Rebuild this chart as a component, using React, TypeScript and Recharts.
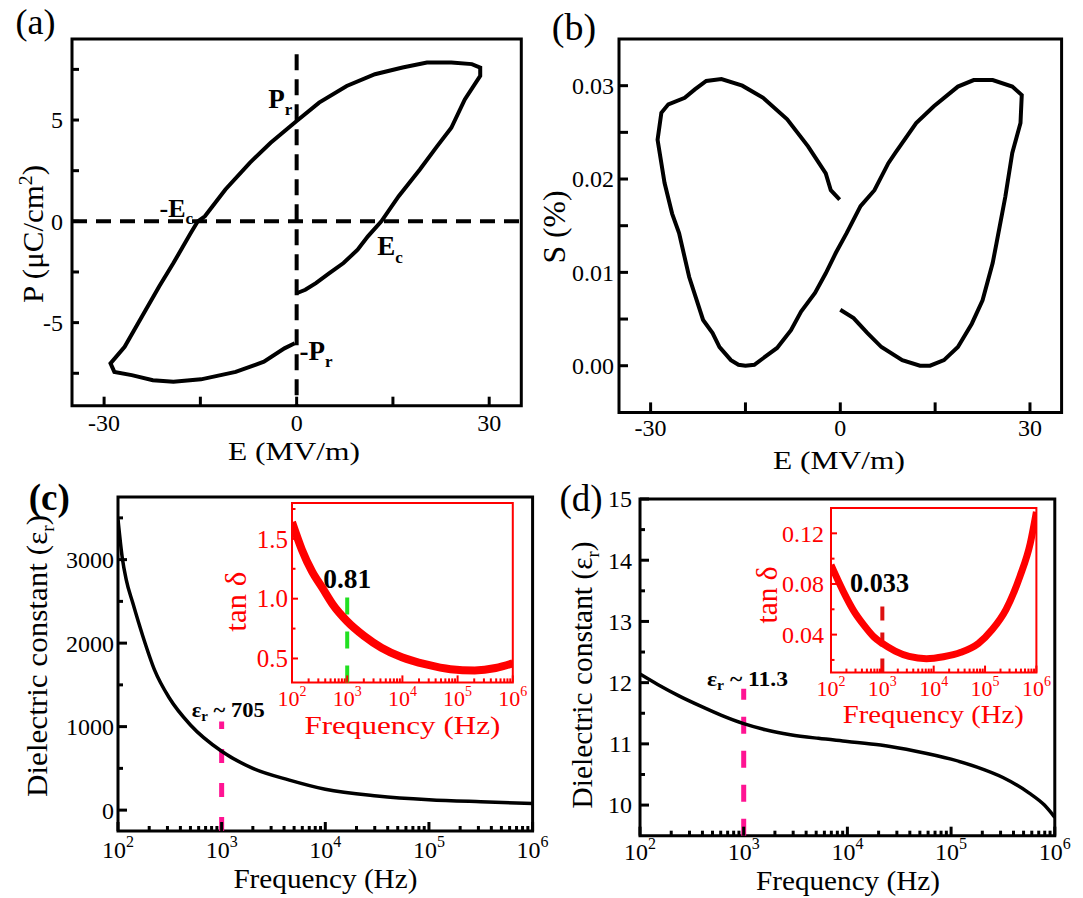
import type { ReactNode } from "react"
import { LineChart, Line, XAxis, YAxis, ReferenceLine, ReferenceArea } from "recharts"

const FONT = "'Liberation Serif', 'Times New Roman', Times, serif"
const BLACK = "#000"
const RED = "#ff0000"
const PINK = "#ff1493"
const GREEN = "#22e022"

// (a) P–E hysteresis loop, one path starting at E = 0 on the lower branch
const peField = [0, 1.35, 3, 5.1, 7.3, 9.5, 11.1, 13.2, 15.9, 19.2, 21.9, 24.1, 26.2, 28.6, 28.6, 27.3, 24.1, 20.3, 16.5, 12.2, 7.8, 3.5, 0, -4.05, -7.3, -11.1, -14.3, -15.4, -16.5, -19.2, -21.4, -24.1, -26.8, -29, -28.4, -25.7, -22.4, -19.2, -14.9, -9.5, -5.1, -1.9, -0.3]
const pePolarization = [-3.55, -3.38, -3.05, -2.56, -2.06, -1.4, -0.74, 0, 1.24, 2.56, 3.71, 4.62, 6.02, 7.18, 7.59, 7.76, 7.84, 7.84, 7.59, 7.26, 6.68, 5.86, 4.95, 3.88, 2.89, 1.57, 0.25, 0, -0.58, -2.06, -3.2, -4.7, -6.19, -7.01, -7.43, -7.59, -7.84, -7.92, -7.8, -7.43, -6.93, -6.27, -6.02]

// (b) S–E butterfly loop
const seField = [0, 2.1, 4.3, 6.5, 9.8, 12.6, 14.2, 16.4, 18.6, 20.8, 22.5, 24.1, 24.7, 26.1, 27.2, 28.5, 28.7, 27.2, 24.1, 21.1, 18.6, 14.8, 12.0, 8.7, 7.6, 5.4, 3.2, 1.0, -0.7, -2.3, -4.0, -6.2, -7.8, -10.0, -12.2, -13.6, -15.0, -16.1, -17.3, -19.1, -20.2, -21.7, -23.9, -25.5, -26.6, -27.8, -28.9, -28.3, -27.2, -24.6, -23.0, -21.2, -18.8, -15.5, -12.2, -8.4, -5.1, -2.3, -1.5, -0.1]
const seStrain = [0.006, 0.0051, 0.0035, 0.002, 0.0006, 0, 0, 0.0006, 0.002, 0.0045, 0.007, 0.011, 0.0131, 0.0181, 0.0228, 0.026, 0.029, 0.0299, 0.0306, 0.0306, 0.0299, 0.0278, 0.026, 0.0228, 0.0217, 0.0188, 0.0171, 0.0142, 0.0121, 0.0099, 0.0078, 0.0058, 0.0038, 0.0019, 0.0008, 0.0001, 0, 0.0001, 0.0006, 0.002, 0.0035, 0.0049, 0.0095, 0.0142, 0.0163, 0.0196, 0.0242, 0.0271, 0.028, 0.0287, 0.0296, 0.0305, 0.0307, 0.03, 0.0287, 0.0264, 0.0235, 0.0206, 0.0188, 0.0178]

// (c) dielectric constant and loss tangent vs frequency
const dielFreqC = [100, 110, 120, 139, 174, 225, 314, 500, 1000, 2000, 4510, 10000, 31623, 100000, 316228, 1000000]
const dielC = [3480, 3020, 2760, 2480, 2080, 1680, 1340, 1020, 705, 500, 360, 250, 170, 125, 100, 80]
const lossFreqC = [100, 151, 229, 355, 550, 1000, 1995, 4169, 9772, 26915, 74131, 204174, 489779, 1000000]
const lossC = [1.64, 1.41, 1.23, 1.09, 0.95, 0.81, 0.69, 0.59, 0.51, 0.45, 0.41, 0.4, 0.42, 0.46]

// (d) dielectric constant and loss tangent vs frequency
const dielFreqD = [100, 148, 240, 380, 603, 1000, 1622, 2818, 5248, 10000, 20893, 45709, 100000, 177828, 316228, 562341, 794328, 1000000]
const dielD = [12.14, 11.97, 11.78, 11.62, 11.47, 11.33, 11.23, 11.15, 11.09, 11.04, 10.98, 10.88, 10.75, 10.62, 10.45, 10.2, 10.0, 9.8]
const lossFreqD = [100, 174, 275, 437, 692, 1000, 1778, 3311, 7244, 15488, 33884, 74131, 138038, 257040, 478630, 758578, 1000000]
const lossD = [0.095, 0.074, 0.059, 0.0475, 0.038, 0.033, 0.027, 0.0228, 0.021, 0.0225, 0.026, 0.033, 0.044, 0.06, 0.086, 0.112, 0.137]

// ticks
const eTicks = [-30, -15, 0, 15, 30]
const eLabels = [-30, 0, 30]
const pTicks = [-7.5, -5, -2.5, 0, 2.5, 5, 7.5]
const pLabels = [-5, 0, 5]
const sTicks = [0, 0.005, 0.01, 0.015, 0.02, 0.025, 0.03]
const sLabels = [0, 0.01, 0.02, 0.03]
const epsTicksC = [0, 500, 1000, 1500, 2000, 2500, 3000, 3500]
const epsLabelsC = [0, 1000, 2000, 3000]
const epsTicksD = [10, 10.5, 11, 11.5, 12, 12.5, 13, 13.5, 14, 14.5, 15]
const epsLabelsD = [10, 11, 12, 13, 14, 15]
const tanTicksC = [0.5, 0.75, 1, 1.25, 1.5, 1.75]
const tanLabelsC = [0.5, 1, 1.5]
const tanTicksD = [0.02, 0.04, 0.06, 0.08, 0.1, 0.12]
const tanLabelsD = [0.04, 0.08, 0.12]
const decades = [2, 3, 4, 5, 6]
const freqTicks = decades.flatMap((d) =>
  d === 6 ? [1e6] : [1, 2, 3, 4, 5, 6, 7, 8, 9].map((k) => k * 10 ** d)
)

type Pt = { x: number; y: number }
const zip = (xs: number[], ys: number[]): Pt[] => xs.map((x, i) => ({ x, y: ys[i] }))
const has = (list: number[], v: number) => list.some((l) => Math.abs(l - v) < 1e-9)
const isDecade = (v: number) => Math.abs(Math.log10(v) - Math.round(Math.log10(v))) < 1e-6

type TickStyle = {
  color: string
  width: number
  majorLen: number
  minorLen: number
  fontSize: number
  gap: number
  isMajor: (v: number) => boolean
  format: (v: number) => ReactNode | null
}

// ticks point inward; label sits below (bottom) or left of the axis line
const bottomTick = (s: TickStyle) => (props: any) => {
  const { x, y, payload } = props
  const v = payload.value as number
  const len = s.isMajor(v) ? s.majorLen : s.minorLen
  const label = s.format(v)
  return (
    <g>
      <line x1={x} x2={x} y1={y} y2={y - len} stroke={s.color} strokeWidth={s.width} />
      {label !== null && (
        <text x={x} y={y + s.gap} textAnchor="middle" fill={s.color} fontSize={s.fontSize} fontFamily={FONT}>
          {label}
        </text>
      )}
    </g>
  )
}

const leftTick = (s: TickStyle) => (props: any) => {
  const { x, y, payload } = props
  const v = payload.value as number
  const len = s.isMajor(v) ? s.majorLen : s.minorLen
  const label = s.format(v)
  return (
    <g>
      <line x1={x} x2={x + len} y1={y} y2={y} stroke={s.color} strokeWidth={s.width} />
      {label !== null && (
        <text x={x - s.gap} y={y} dy="0.35em" textAnchor="end" fill={s.color} fontSize={s.fontSize} fontFamily={FONT}>
          {label}
        </text>
      )}
    </g>
  )
}

const powerLabel = (sup: number, dy: number) => (v: number) =>
  isDecade(v) ? (
    <>
      10
      <tspan dy={-dy} fontSize={sup}>
        {Math.round(Math.log10(v))}
      </tspan>
    </>
  ) : null

type Box = { l: number; t: number; r: number; b: number }

// plot area lands exactly on `box` (page pixels): 20 margin + 40 y-axis on the left,
// 30 x-axis + 10 margin below, room above and to the right for edge labels
function Plot({ box, data, children }: { box: Box; data: Pt[]; children: ReactNode }) {
  return (
    <div style={{ position: "absolute", left: box.l - 60, top: box.t - 20 }}>
      <LineChart
        width={box.r - box.l + 90}
        height={box.b - box.t + 60}
        data={data}
        margin={{ top: 20, right: 30, bottom: 10, left: 20 }}
      >
        {children}
      </LineChart>
    </div>
  )
}

function Txt(props: {
  x: number
  y: number
  size: number
  children: ReactNode
  anchor?: "start" | "middle" | "end"
  rotate?: number
  bold?: boolean
  color?: string
  len?: number
}) {
  const { x, y, size, children, anchor = "middle", rotate, bold, color = BLACK, len } = props
  return (
    <text
      x={x}
      y={y}
      fontSize={size}
      fontFamily={FONT}
      fontWeight={bold ? "bold" : "normal"}
      fill={color}
      textAnchor={anchor}
      transform={rotate ? `rotate(${rotate} ${x} ${y})` : undefined}
      textLength={len}
      lengthAdjust={len ? "spacingAndGlyphs" : undefined}
    >
      {children}
    </text>
  )
}

const boxA: Box = { l: 71.7, t: 39.3, r: 521, b: 406 }
const boxB: Box = { l: 619.4, t: 39.3, r: 1062, b: 412.7 }
const boxC: Box = { l: 118.4, t: 496.5, r: 533, b: 830.5 }
const boxD: Box = { l: 640.2, t: 499.3, r: 1055, b: 836 }
const boxCi: Box = { l: 291.5, t: 503.3, r: 512.3, b: 682.7 }
const boxDi: Box = { l: 830.6, t: 507.7, r: 1036, b: 672.3 }

export default function App() {
  const peData = zip(peField, pePolarization)
  const seData = zip(seField, seStrain)
  const dielDataC = zip(dielFreqC, dielC)
  const lossDataC = zip(lossFreqC, lossC)
  const dielDataD = zip(dielFreqD, dielD)
  const lossDataD = zip(lossFreqD, lossD)

  const fieldAxisA = bottomTick({
    color: BLACK, width: 3, majorLen: 9, minorLen: 9, fontSize: 24, gap: 25,
    isMajor: () => true, format: (v) => (has(eLabels, v) ? String(v) : null),
  })
  const fieldAxisB = bottomTick({
    color: BLACK, width: 3, majorLen: 10, minorLen: 10, fontSize: 24, gap: 24,
    isMajor: () => true, format: (v) => (has(eLabels, v) ? String(v) : null),
  })
  const freqAxisMain = (gap: number) =>
    bottomTick({
      color: BLACK, width: 3, majorLen: 9, minorLen: 5, fontSize: 24, gap,
      isMajor: isDecade, format: powerLabel(16, 11),
    })
  const freqAxisInset = (gap: number) =>
    bottomTick({
      color: RED, width: 2, majorLen: 7, minorLen: 4, fontSize: 22, gap,
      isMajor: isDecade, format: powerLabel(14, 10),
    })

  return (
    <div style={{ position: "absolute", left: 0, top: 0, width: 1083, height: 898, background: "#fff" }}>
      {/* (a) P–E loop */}
      <Plot box={boxA} data={peData}>
        <XAxis dataKey="x" type="number" domain={[-35, 35]} allowDataOverflow ticks={eTicks} interval={0}
          tickSize={0} tickMargin={0} axisLine={false} tickLine={false} height={30} tick={fieldAxisA} />
        <YAxis type="number" domain={[-9.1, 9]} allowDataOverflow ticks={pTicks} interval={0}
          tickSize={0} tickMargin={0} axisLine={false} tickLine={false} width={40}
          tick={leftTick({
            color: BLACK, width: 3, majorLen: 7, minorLen: 7, fontSize: 24, gap: 9,
            isMajor: () => true, format: (v) => (has(pLabels, v) ? String(v) : null),
          })} />
        <ReferenceLine y={0} stroke={BLACK} strokeWidth={4} strokeDasharray="15 9" ifOverflow="visible" />
        <ReferenceLine segment={[{ x: 0, y: 8.25 }, { x: 0, y: -9.1 }]} stroke={BLACK} strokeWidth={4}
          strokeDasharray="16 9" ifOverflow="visible" />
        <Line type="linear" dataKey="y" stroke={BLACK} strokeWidth={4} dot={false} isAnimationActive={false} />
        <ReferenceArea x1={-35} x2={35} y1={-9.1} y2={9} fill="none" stroke={BLACK} strokeWidth={3} ifOverflow="visible" />
      </Plot>

      {/* (b) S–E butterfly */}
      <Plot box={boxB} data={seData}>
        <XAxis dataKey="x" type="number" domain={[-35, 35]} allowDataOverflow ticks={eTicks} interval={0}
          tickSize={0} tickMargin={0} axisLine={false} tickLine={false} height={30} tick={fieldAxisB} />
        <YAxis type="number" domain={[-0.005, 0.035]} allowDataOverflow ticks={sTicks} interval={0}
          tickSize={0} tickMargin={0} axisLine={false} tickLine={false} width={40}
          tick={leftTick({
            color: BLACK, width: 3, majorLen: 9, minorLen: 9, fontSize: 24, gap: 5,
            isMajor: () => true, format: (v) => (has(sLabels, v) ? v.toFixed(2) : null),
          })} />
        <Line type="linear" dataKey="y" stroke={BLACK} strokeWidth={4} dot={false} isAnimationActive={false} />
        <ReferenceArea x1={-35} x2={35} y1={-0.005} y2={0.035} fill="none" stroke={BLACK} strokeWidth={3} ifOverflow="visible" />
      </Plot>

      {/* (c) dielectric constant */}
      <Plot box={boxC} data={dielDataC}>
        <XAxis dataKey="x" type="number" scale="log" domain={[100, 1e6]} allowDataOverflow ticks={freqTicks}
          interval={0} tickSize={0} tickMargin={0} axisLine={false} tickLine={false} height={30} tick={freqAxisMain(27)} />
        <YAxis type="number" domain={[-250, 3750]} allowDataOverflow ticks={epsTicksC} interval={0}
          tickSize={0} tickMargin={0} axisLine={false} tickLine={false} width={40}
          tick={leftTick({
            color: BLACK, width: 3, majorLen: 9, minorLen: 5, fontSize: 24, gap: 4,
            isMajor: (v) => has(epsLabelsC, v), format: (v) => (has(epsLabelsC, v) ? String(v) : null),
          })} />
        <ReferenceLine segment={[{ x: 1000, y: -250 }, { x: 1000, y: 1060 }]} stroke={PINK} strokeWidth={5}
          strokeDasharray="14 20" ifOverflow="visible" />
        <Line type="monotone" dataKey="y" stroke={BLACK} strokeWidth={3.5} dot={false} isAnimationActive={false} />
        <ReferenceArea x1={100} x2={1e6} y1={-250} y2={3750} fill="none" stroke={BLACK} strokeWidth={3} ifOverflow="visible" />
      </Plot>

      {/* (c) inset: loss tangent */}
      <Plot box={boxCi} data={lossDataC}>
        <XAxis dataKey="x" type="number" scale="log" domain={[100, 1e6]} allowDataOverflow ticks={freqTicks}
          interval={0} tickSize={0} tickMargin={0} axisLine={false} tickLine={false} height={30} tick={freqAxisInset(23.5)} />
        <YAxis type="number" domain={[0.3, 1.8]} allowDataOverflow ticks={tanTicksC} interval={0}
          tickSize={0} tickMargin={0} axisLine={false} tickLine={false} width={40}
          tick={leftTick({
            color: RED, width: 2, majorLen: 6, minorLen: 3.5, fontSize: 25, gap: 4,
            isMajor: (v) => has(tanLabelsC, v), format: (v) => (has(tanLabelsC, v) ? v.toFixed(1) : null),
          })} />
        <ReferenceLine segment={[{ x: 1000, y: 0.3 }, { x: 1000, y: 1.03 }]} stroke={GREEN} strokeWidth={4}
          strokeDasharray="17 17" ifOverflow="visible" />
        <Line type="monotone" dataKey="y" stroke={RED} strokeWidth={8} dot={false} isAnimationActive={false} />
        <ReferenceArea x1={100} x2={1e6} y1={0.3} y2={1.8} fill="none" stroke={RED} strokeWidth={2} ifOverflow="visible" />
      </Plot>

      {/* (d) dielectric constant */}
      <Plot box={boxD} data={dielDataD}>
        <XAxis dataKey="x" type="number" scale="log" domain={[100, 1e6]} allowDataOverflow ticks={freqTicks}
          interval={0} tickSize={0} tickMargin={0} axisLine={false} tickLine={false} height={30} tick={freqAxisMain(24)} />
        <YAxis type="number" domain={[9.5, 15]} allowDataOverflow ticks={epsTicksD} interval={0}
          tickSize={0} tickMargin={0} axisLine={false} tickLine={false} width={40}
          tick={leftTick({
            color: BLACK, width: 3, majorLen: 9, minorLen: 5, fontSize: 24, gap: 8,
            isMajor: (v) => has(epsLabelsD, v), format: (v) => (has(epsLabelsD, v) ? String(v) : null),
          })} />
        <ReferenceLine segment={[{ x: 1000, y: 9.5 }, { x: 1000, y: 11.9 }]} stroke={PINK} strokeWidth={5}
          strokeDasharray="17 17" ifOverflow="visible" />
        <Line type="monotone" dataKey="y" stroke={BLACK} strokeWidth={3.5} dot={false} isAnimationActive={false} />
        <ReferenceArea x1={100} x2={1e6} y1={9.5} y2={15} fill="none" stroke={BLACK} strokeWidth={3} ifOverflow="visible" />
      </Plot>

      {/* (d) inset: loss tangent */}
      <Plot box={boxDi} data={lossDataD}>
        <XAxis dataKey="x" type="number" scale="log" domain={[100, 1e6]} allowDataOverflow ticks={freqTicks}
          interval={0} tickSize={0} tickMargin={0} axisLine={false} tickLine={false} height={30} tick={freqAxisInset(23)} />
        <YAxis type="number" domain={[0.01, 0.14]} allowDataOverflow ticks={tanTicksD} interval={0}
          tickSize={0} tickMargin={0} axisLine={false} tickLine={false} width={40}
          tick={leftTick({
            color: RED, width: 2, majorLen: 6, minorLen: 3.5, fontSize: 24, gap: 7,
            isMajor: (v) => has(tanLabelsD, v), format: (v) => (has(tanLabelsD, v) ? v.toFixed(2) : null),
          })} />
        <ReferenceLine segment={[{ x: 1000, y: 0.01 }, { x: 1000, y: 0.067 }]} stroke="#dd1111" strokeWidth={4}
          strokeDasharray="14 12" ifOverflow="visible" />
        <Line type="monotone" dataKey="y" stroke={RED} strokeWidth={7} dot={false} isAnimationActive={false} />
        <ReferenceArea x1={100} x2={1e6} y1={0.01} y2={0.14} fill="none" stroke={RED} strokeWidth={2} ifOverflow="visible" />
      </Plot>

      {/* titles, panel tags and annotations */}
      <svg width={1083} height={898} style={{ position: "absolute", left: 0, top: 0, pointerEvents: "none" }}>
        <Txt x={35.5} y={34} size={36}>(a)</Txt>
        <Txt x={574} y={40} size={38}>(b)</Txt>
        <Txt x={49.3} y={510} size={37} bold>(c)</Txt>
        <Txt x={581} y={511} size={37}>(d)</Txt>

        <Txt x={294} y={460} size={26} len={132}>E (MV/m)</Txt>
        <Txt x={839} y={469} size={26} len={132}>E (MV/m)</Txt>
        <Txt x={43} y={234} size={30} rotate={-90} len={138}>
          P (μC/cm<tspan dy={-11} fontSize={19}>2</tspan><tspan dy={11}>)</tspan>
        </Txt>
        <Txt x={565} y={227} size={31} rotate={-90} len={73}>S (%)</Txt>

        <Txt x={325.4} y={888} size={27} len={184}>Frequency (Hz)</Txt>
        <Txt x={848} y={890} size={27} len={184}>Frequency (Hz)</Txt>
        <Txt x={46.7} y={656} size={29} rotate={-90} len={282}>
          Dielectric constant (ε<tspan dy={7} fontSize={18}>r</tspan><tspan dy={-7}>)</tspan>
        </Txt>
        <Txt x={592} y={675} size={29} rotate={-90} len={267}>
          Dielectric constant (ε<tspan dy={7} fontSize={18}>r</tspan><tspan dy={-7}>)</tspan>
        </Txt>

        <Txt x={246} y={601.7} size={30} rotate={-90} color={RED} len={60}>tan δ</Txt>
        <Txt x={777} y={595} size={29} rotate={-90} color={RED} len={57}>tan δ</Txt>
        <Txt x={402.4} y={734} size={26} color={RED} len={196}>Frequency (Hz)</Txt>
        <Txt x={933.3} y={723} size={25} color={RED} len={181}>Frequency (Hz)</Txt>

        <Txt x={268.3} y={108.3} size={27} anchor="start" bold>
          P<tspan dy={7} fontSize={17}>r</tspan>
        </Txt>
        <Txt x={159.5} y={216.7} size={26} anchor="start" bold>
          -E<tspan dy={7} fontSize={17}>c</tspan>
        </Txt>
        <Txt x={377.3} y={255} size={27} anchor="start" bold>
          E<tspan dy={8} fontSize={17}>c</tspan>
        </Txt>
        <Txt x={299.4} y={360} size={27} anchor="start" bold>
          -P<tspan dy={7} fontSize={17}>r</tspan>
        </Txt>

        <Txt x={191.7} y={717} size={21} anchor="start" bold len={73}>
          ε<tspan dy={4} fontSize={14}>r</tspan><tspan dy={-4}> ~ 705</tspan>
        </Txt>
        <Txt x={707} y={686} size={21} anchor="start" bold len={81}>
          ε<tspan dy={4} fontSize={14}>r</tspan><tspan dy={-4}> ~ 11.3</tspan>
        </Txt>
        <Txt x={323.3} y={588.3} size={27} anchor="start" bold len={48}>0.81</Txt>
        <Txt x={850} y={591.7} size={27} anchor="start" bold len={59}>0.033</Txt>
      </svg>
    </div>
  )
}
